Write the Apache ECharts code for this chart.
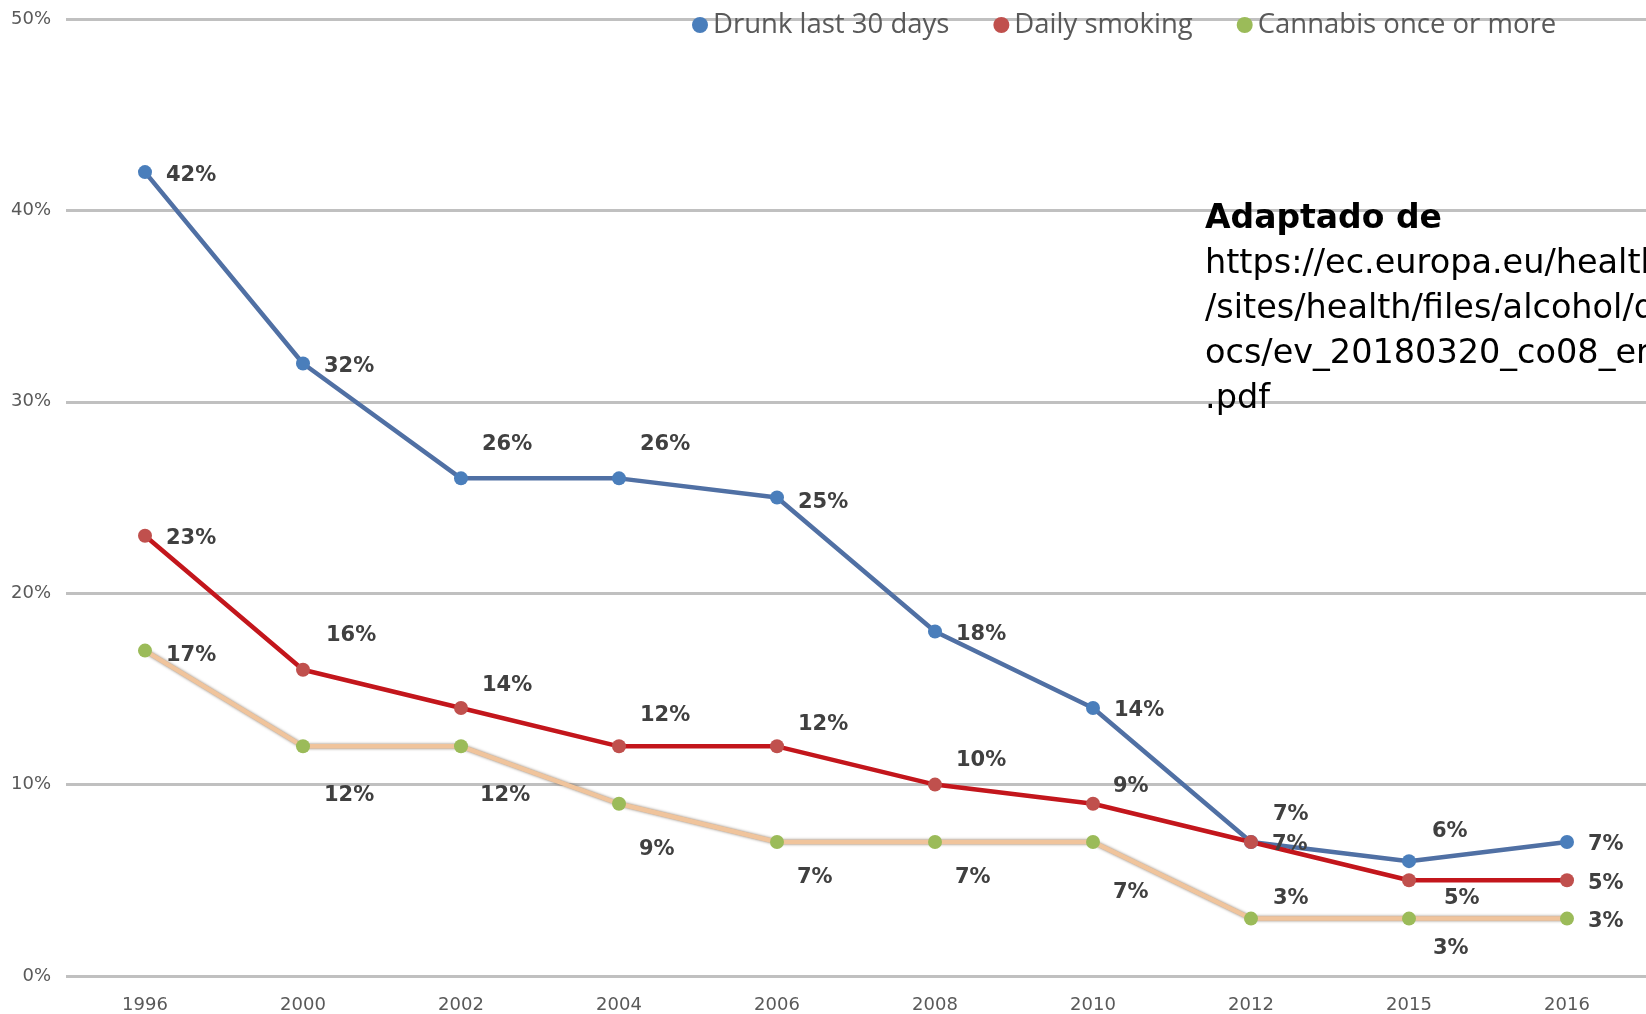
<!DOCTYPE html>
<html>
<head>
<meta charset="utf-8">
<script src="https://cdn.jsdelivr.net/npm/echarts@6/dist/echarts.min.js"></script>
<style>
  html, body { margin: 0; padding: 0; background: #fff; }
  #chart { width: 1646px; height: 1014px; }
</style>
</head>
<body>
<div id="chart"></div>
<script>
// 数据
const years = ['1996', '2000', '2002', '2004', '2006', '2008', '2010', '2012', '2015', '2016'];
const drunk = [42, 32, 26, 26, 25, 18, 14, 7, 6, 7];
const smoking = [23, 16, 14, 12, 12, 10, 9, 7, 5, 5];
const cannabis = [17, 12, 12, 9, 7, 7, 7, 3, 3, 3];
const seriesNames = ['Drunk last 30 days', 'Daily smoking', 'Cannabis once or more'];

// 标签偏移 (相对数据点, 像素)
const drunkLabelOffset = [[21, 0], [21, 0], [21, -37], [21, -37], [21, 2], [21, 0], [21, 0], [22, -30], [23, -33], [21, 0]];
const smokingLabelOffset = [[21, 0], [23, -37], [21, -25], [21, -34], [21, -25], [21, -27], [20, -20], [21, 0], [35, 15], [21, 0]];
const cannabisLabelOffset = [[21, 2], [21, 46], [19, 46], [20, 43], [20, 33], [20, 33], [20, 48], [22, -23], [24, 27], [21, 0]];

const symSize = 14;

function buildData(values, offsets) {
    return values.map((v, i) => ({
        value: v,
        label: {
            position: [symSize / 2 + offsets[i][0], symSize / 2 + offsets[i][1] + 3],
            align: 'left',
            verticalAlign: 'middle'
        }
    }));
}

const labelStyle = {
    show: true,
    formatter: '{c}%',
    color: '#404040',
    fontFamily: 'DejaVu Sans',
    fontWeight: 'bold',
    fontSize: 21
};

const chart = echarts.init(document.getElementById('chart'));

const option = {
    backgroundColor: '#ffffff',
    animation: false,
    grid: { left: 66, right: 0, top: 19, bottom: 38, containLabel: false },
    legend: {
        left: 687,
        top: 6,
        icon: 'circle',
        itemWidth: 16,
        itemHeight: 16,
        itemGap: 44,
        data: seriesNames,
        textStyle: { color: '#595959', fontFamily: 'Open Sans', fontSize: 27.5 }
    },
    xAxis: {
        type: 'category',
        data: years,
        boundaryGap: true,
        axisLine: { show: false },
        axisTick: { show: false },
        axisLabel: { color: '#595959', fontFamily: 'DejaVu Sans', fontSize: 18, margin: 20 }
    },
    yAxis: {
        type: 'value',
        min: 0,
        max: 50,
        interval: 10,
        axisLine: { show: false },
        axisTick: { show: false },
        axisLabel: { formatter: '{value}%', color: '#595959', fontFamily: 'DejaVu Sans', fontSize: 18, margin: 15 },
        splitLine: { lineStyle: { color: '#c0c0c0', width: 3 } }
    },
    series: [
        {
            name: seriesNames[0],
            type: 'line',
            data: buildData(drunk, drunkLabelOffset),
            symbol: 'circle',
            symbolSize: symSize,
            color: '#4a7ebb',
            lineStyle: { color: '#5070a4', width: 4.5 },
            itemStyle: { color: '#4a7ebb' },
            label: labelStyle
        },
        {
            name: seriesNames[1],
            type: 'line',
            data: buildData(smoking, smokingLabelOffset),
            symbol: 'circle',
            symbolSize: symSize,
            color: '#c0504d',
            lineStyle: { color: '#c3161c', width: 4.5 },
            itemStyle: { color: '#c0504d' },
            label: labelStyle
        },
        {
            name: seriesNames[2],
            type: 'line',
            data: buildData(cannabis, cannabisLabelOffset),
            symbol: 'circle',
            symbolSize: symSize,
            color: '#9bbb59',
            lineStyle: { color: '#f0c49c', width: 4.5, shadowColor: 'rgba(110,90,70,0.8)', shadowBlur: 3 },
            itemStyle: { color: '#9bbb59' },
            label: labelStyle
        }
    ],
    graphic: [
        {
            type: 'text',
            left: 1205,
            top: 197,
            z: 100,
            style: {
                text: '{b|Adaptado de}\nhttps://ec.europa.eu/health\n/sites/health/files/alcohol/d\nocs/ev_20180320_co08_en\n.pdf',
                fontFamily: 'DejaVu Sans',
                fontSize: 33.5,
                lineHeight: 45,
                fill: '#000000',
                rich: {
                    b: { fontFamily: 'DejaVu Sans', fontWeight: 'bold', fontSize: 33, lineHeight: 45, fill: '#000000' }
                }
            }
        }
    ]
};

chart.setOption(option);

window.addEventListener('resize', function () {
    chart.resize();
});
</script>
</body>
</html>
